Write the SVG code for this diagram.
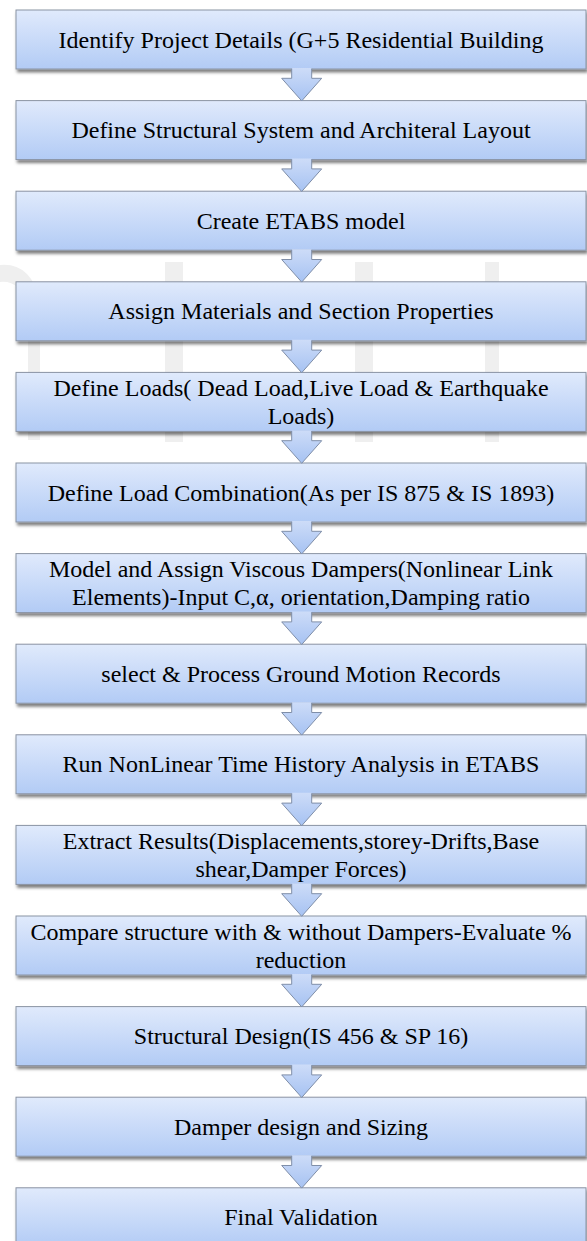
<svg xmlns="http://www.w3.org/2000/svg" xmlns:xlink="http://www.w3.org/1999/xlink" width="587" height="1241" viewBox="0 0 587 1241">
<style>
.box{fill:url(#bg);stroke:#8a93a3;stroke-width:1;filter:url(#sh)}
text{font-family:'Liberation Serif','Times New Roman',serif;font-size:24px;fill:#000;text-anchor:middle}
.af{fill:url(#ag)}
.as{fill:none;stroke:#7f8ea8;stroke-width:1;stroke-linejoin:miter}
</style>
<defs>
<linearGradient id="bg" x1="0" y1="0" x2="0" y2="1">
<stop offset="0" stop-color="#e0eafc"/>
<stop offset="1" stop-color="#b2cbf5"/>
</linearGradient>
<linearGradient id="ag" x1="0" y1="0" x2="0" y2="1">
<stop offset="0" stop-color="#cddcf8"/>
<stop offset="1" stop-color="#a6c2f2"/>
</linearGradient>
<filter id="sh" x="-5%" y="-20%" width="110%" height="150%">
<feDropShadow dx="1.5" dy="3" stdDeviation="1.8" flood-color="#000" flood-opacity="0.5"/>
</filter>
<g id="arr">
<path class="af" d="M291.7,58 L311.7,58 L311.7,68.3 L321.7,68.3 L301.7,90.9 L281.7,68.3 L291.7,68.3 Z"/>
<path class="as" d="M291.7,58.6 L291.7,68.3 L281.7,68.3 L301.7,90.9 L321.7,68.3 L311.7,68.3 L311.7,58.6"/>
</g>
</defs>
<rect width="587" height="1241" fill="#fff"/>
<g id="watermark" fill="#efefef">
<rect x="165" y="262" width="18" height="180"/>
<rect x="355" y="262" width="18" height="180"/>
<rect x="485" y="262" width="14" height="180"/>
<path d="M0,265 Q30,262 40,300 L40,440 L28,440 L28,305 Q20,280 0,282 Z"/>
</g>
<g id="n1"><rect class="box" x="16" y="10" width="570" height="59"/><text x="301" y="47.5">Identify Project Details (G+5 Residential Building</text></g>
<g id="n2"><rect class="box" x="16" y="100.6" width="570" height="59"/><text x="301" y="138.1">Define Structural System and Architeral Layout</text></g>
<g id="n3"><rect class="box" x="16" y="191.2" width="570" height="59"/><text x="301" y="228.7">Create ETABS model</text></g>
<g id="n4"><rect class="box" x="16" y="281.8" width="570" height="59"/><text x="301" y="319.3">Assign Materials and Section Properties</text></g>
<g id="n5"><rect class="box" x="16" y="372.4" width="570" height="59"/><text x="301" y="395.9">Define Loads( Dead Load,Live Load &amp; Earthquake</text><text x="301" y="423.9">Loads)</text></g>
<g id="n6"><rect class="box" x="16" y="463" width="570" height="59"/><text x="301" y="500.5">Define Load Combination(As per IS 875 &amp; IS 1893)</text></g>
<g id="n7"><rect class="box" x="16" y="553.6" width="570" height="59"/><text x="301" y="577.1">Model and Assign Viscous Dampers(Nonlinear Link</text><text x="301" y="605.1">Elements)-Input C,α, orientation,Damping ratio</text></g>
<g id="n8"><rect class="box" x="16" y="644.2" width="570" height="59"/><text x="301" y="681.7">select &amp; Process Ground Motion Records</text></g>
<g id="n9"><rect class="box" x="16" y="734.8" width="570" height="59"/><text x="301" y="772.3">Run NonLinear Time History Analysis in ETABS</text></g>
<g id="n10"><rect class="box" x="16" y="825.4" width="570" height="59"/><text x="301" y="848.9">Extract Results(Displacements,storey-Drifts,Base</text><text x="301" y="876.9">shear,Damper Forces)</text></g>
<g id="n11"><rect class="box" x="16" y="916" width="570" height="59"/><text x="301" y="939.5">Compare structure with &amp; without Dampers-Evaluate %</text><text x="301" y="967.5">reduction</text></g>
<g id="n12"><rect class="box" x="16" y="1006.6" width="570" height="59"/><text x="301" y="1044.1">Structural Design(IS 456 &amp; SP 16)</text></g>
<g id="n13"><rect class="box" x="16" y="1097.2" width="570" height="59"/><text x="301" y="1134.7">Damper design and Sizing</text></g>
<g id="n14"><rect class="box" x="16" y="1187.8" width="570" height="59"/><text x="301" y="1225.3">Final Validation</text></g>
<g id="connectors">
<use xlink:href="#arr" href="#arr" y="10"/>
<use xlink:href="#arr" href="#arr" y="100.6"/>
<use xlink:href="#arr" href="#arr" y="191.2"/>
<use xlink:href="#arr" href="#arr" y="281.8"/>
<use xlink:href="#arr" href="#arr" y="372.4"/>
<use xlink:href="#arr" href="#arr" y="463"/>
<use xlink:href="#arr" href="#arr" y="553.6"/>
<use xlink:href="#arr" href="#arr" y="644.2"/>
<use xlink:href="#arr" href="#arr" y="734.8"/>
<use xlink:href="#arr" href="#arr" y="825.4"/>
<use xlink:href="#arr" href="#arr" y="916"/>
<use xlink:href="#arr" href="#arr" y="1006.6"/>
<use xlink:href="#arr" href="#arr" y="1097.2"/>
</g>
</svg>
